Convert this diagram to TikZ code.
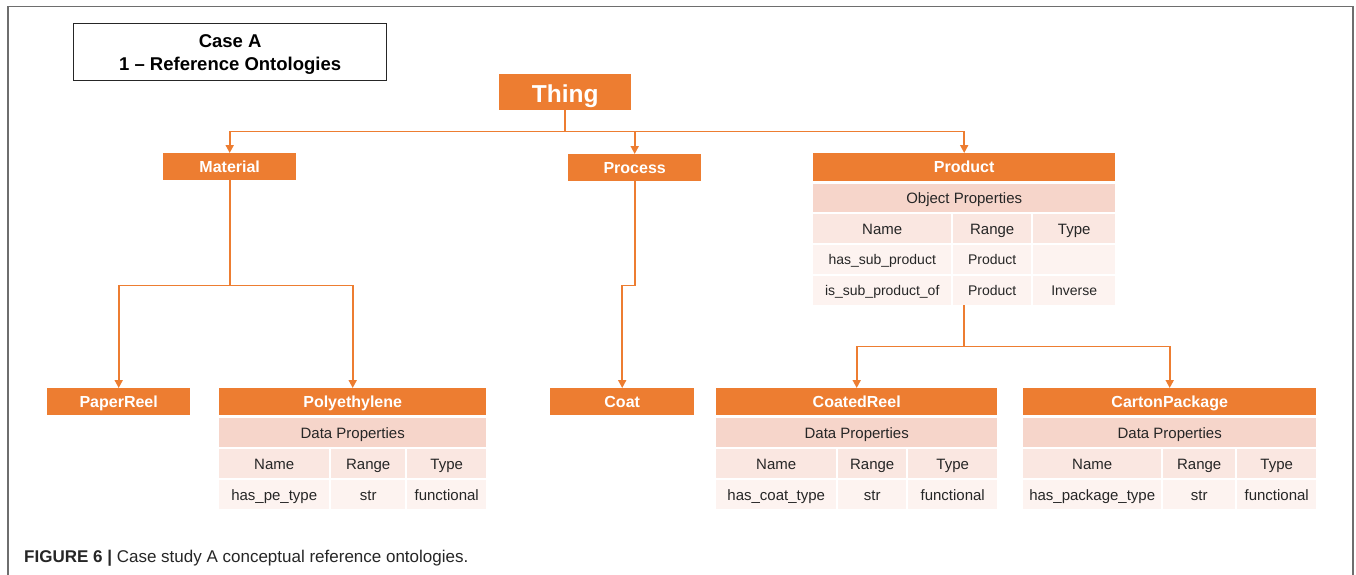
\documentclass[tikz,border=0pt]{standalone}
\usepackage{fontspec}
\setmainfont{Liberation Sans}
\usetikzlibrary{arrows.meta}

\definecolor{accent}{HTML}{ED7D31}
\definecolor{rowA}{HTML}{F6D5CA}
\definecolor{rowB}{HTML}{FAE7E1}
\definecolor{rowC}{HTML}{FDF3F0}
\definecolor{ink}{HTML}{262626}
\definecolor{framegray}{HTML}{6E6E6E}

% table cell: name, x1, y1, x2, y2, style, text
\newcommand\tcell[7]{%
  \pgfmathsetmacro\cellw{#4-#2}\pgfmathsetmacro\cellh{#5-#3}%
  \node[#6, anchor=north west, minimum width=\cellw pt, minimum height=\cellh pt, inner sep=0pt] (#1) at (#2,#3) {#7};}

\begin{document}
\begin{tikzpicture}[x=1pt,y=-1pt,
  hdr/.style={fill=accent, text=white, font=\fontsize{16}{18}\selectfont\bfseries, text height=11.5pt, text depth=0pt},
  sect/.style={fill=rowA, text=ink, font=\fontsize{15}{17}\selectfont, text height=10.7pt, text depth=0pt},
  colhead/.style={fill=rowB, text=ink, font=\fontsize{15}{17}\selectfont, text height=10.7pt, text depth=0pt},
  datacell/.style={fill=rowC, text=ink, font=\fontsize{14}{16}\selectfont, text height=10pt, text depth=0pt},
  datacellb/.style={fill=rowC, text=ink, font=\fontsize{15}{17}\selectfont, text height=10.7pt, text depth=0pt},
  link/.style={draw=accent, line width=1.8pt},
  conn/.style={link, -{Triangle[length=8pt,width=8pt]}}]

\useasboundingbox (0,0) rectangle (1356,575);
\fill[white] (0,0) rectangle (1356,575);

% open frame around the figure
\draw[framegray, line width=1.5pt] (8,575) -- (8,6.5) -- (1353,6.5) -- (1353,575);

% title box
\node[draw=black!85, line width=1.3pt, anchor=north west, minimum width=313pt, minimum height=57pt,
      inner sep=0pt, align=center, font=\fontsize{18.5}{23}\selectfont\bfseries] (title) at (73,23)
      {\rule{0pt}{17pt}Case A\\1 -- Reference Ontologies};

% root class
\tcell{thing}{499}{74}{631}{110}{hdr, font=\fontsize{24.5}{26}\selectfont\bfseries, text height=21pt}{Thing}

% first level
\tcell{material}{163}{153}{296}{180}{hdr}{Material}
\tcell{process}{568}{154}{701}{181}{hdr}{Process}
\tcell{product}{813}{153}{1115}{181}{hdr}{Product}
\tcell{prodsect}{813}{184}{1115}{212}{sect}{Object Properties}
\tcell{prodh1}{813}{214}{951}{243}{colhead}{Name}
\tcell{prodh2}{953}{214}{1031}{243}{colhead}{Range}
\tcell{prodh3}{1033}{214}{1115}{243}{colhead}{Type}
\tcell{prodr1a}{813}{245}{951}{274}{datacell}{has\_sub\_product}
\tcell{prodr1b}{953}{245}{1031}{274}{datacell}{Product}
\tcell{prodr1c}{1033}{245}{1115}{274}{datacell}{}
\tcell{prodr2a}{813}{276}{951}{305}{datacell}{is\_sub\_product\_of}
\tcell{prodr2b}{953}{276}{1031}{305}{datacell}{Product}
\tcell{prodr2c}{1033}{276}{1115}{305}{datacell}{Inverse}

% leaves
\tcell{paperreel}{47}{388}{190}{415}{hdr}{PaperReel}

\tcell{poly}{219}{388}{486}{415}{hdr}{Polyethylene}
\tcell{polysect}{219}{418}{486}{447}{sect}{Data Properties}
\tcell{polyh1}{219}{449}{329}{478}{colhead}{Name}
\tcell{polyh2}{331}{449}{405}{478}{colhead}{Range}
\tcell{polyh3}{407}{449}{486}{478}{colhead}{Type}
\tcell{polyr1a}{219}{480}{329}{509}{datacellb}{has\_pe\_type}
\tcell{polyr1b}{331}{480}{405}{509}{datacellb}{str}
\tcell{polyr1c}{407}{480}{486}{509}{datacellb}{functional}

\tcell{coat}{550}{388}{694}{415}{hdr}{Coat}

\tcell{coated}{716}{388}{997}{415}{hdr}{CoatedReel}
\tcell{coatedsect}{716}{418}{997}{447}{sect}{Data Properties}
\tcell{coatedh1}{716}{449}{836}{478}{colhead}{Name}
\tcell{coatedh2}{838}{449}{906}{478}{colhead}{Range}
\tcell{coatedh3}{908}{449}{997}{478}{colhead}{Type}
\tcell{coatedr1a}{716}{480}{836}{509}{datacellb}{has\_coat\_type}
\tcell{coatedr1b}{838}{480}{906}{509}{datacellb}{str}
\tcell{coatedr1c}{908}{480}{997}{509}{datacellb}{functional}

\tcell{carton}{1023}{388}{1316}{415}{hdr}{CartonPackage}
\tcell{cartonsect}{1023}{418}{1316}{447}{sect}{Data Properties}
\tcell{cartonh1}{1023}{449}{1161}{478}{colhead}{Name}
\tcell{cartonh2}{1163}{449}{1235}{478}{colhead}{Range}
\tcell{cartonh3}{1237}{449}{1316}{478}{colhead}{Type}
\tcell{cartonr1a}{1023}{480}{1161}{509}{datacellb}{has\_package\_type}
\tcell{cartonr1b}{1163}{480}{1235}{509}{datacellb}{str}
\tcell{cartonr1c}{1237}{480}{1316}{509}{datacellb}{functional}

% Thing -> first level
\draw[link] (thing.south) -- ++(0,21) coordinate (tbus);
\draw[conn] (tbus) -| (material.north);
\draw[conn] (tbus) -| (process.north);
\draw[conn] (tbus) -| (product.north);

% Material -> PaperReel, Polyethylene
\draw[link] (material.south) -- ++(0,105) coordinate (mbus);
\draw[conn] (mbus) -| (paperreel.north);
\draw[conn] (mbus) -| (poly.north);

% Process -> Coat
\draw[conn] (process.south) -- ++(0,104) -| (coat.north);

% Product -> CoatedReel, CartonPackage
\coordinate (pbot) at (product.south |- prodr2b.south);
\draw[link] (pbot) -- ++(0,41) coordinate (pbus);
\draw[conn] (pbus) -| (coated.north);
\draw[conn] (pbus) -| (carton.north);

% caption
\node[anchor=base west, inner sep=0pt, font=\fontsize{17}{19}\selectfont, text=ink] (caption) at (24,562)
  {\textbf{FIGURE 6 |} Case study A conceptual reference ontologies.};
\end{tikzpicture}
\end{document}
